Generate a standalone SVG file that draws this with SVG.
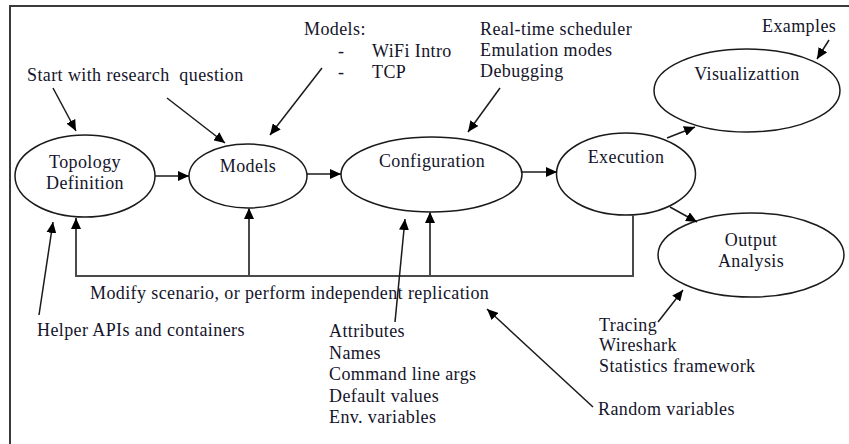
<svg xmlns="http://www.w3.org/2000/svg" width="849" height="444" viewBox="0 0 849 444">
  <style>
    text { font-family: "Liberation Serif", "Times New Roman", serif; font-size: 18px; letter-spacing: 0.4px; fill: #14142a; white-space: pre; }
    .mid { text-anchor: middle; }
    .node { fill: #ffffff; stroke: #1a1a1a; stroke-width: 1.5; }
    .arr { fill: none; stroke: #1a1a1a; stroke-width: 1.5; marker-end: url(#head); }
    .loop { fill: none; stroke: #4a4a4a; stroke-width: 2; }
    .loopArr { fill: none; stroke: #4a4a4a; stroke-width: 2; marker-end: url(#head); }
    .frame { fill: none; stroke: #3a3a3a; stroke-width: 2; }
  </style>
  <defs>
    <marker id="head" markerUnits="userSpaceOnUse" markerWidth="12" markerHeight="10" refX="11" refY="5" orient="auto">
      <path d="M0,0 L11,5 L0,10 z" fill="#000"/>
    </marker>
  </defs>

  <rect width="849" height="444" fill="#ffffff"/>
  <!-- frame: top and left edges -->
  <path class="frame" d="M10,444 V6 H849"/>

  <!-- nodes -->
  <g id="topology">
    <ellipse class="node" cx="85" cy="176" rx="70" ry="41"/>
    <text class="mid" x="85" y="168">Topology</text>
    <text class="mid" x="85" y="189">Definition</text>
  </g>
  <g id="models">
    <ellipse class="node" cx="248" cy="176" rx="59" ry="32"/>
    <text class="mid" x="248" y="172">Models</text>
  </g>
  <g id="configuration">
    <ellipse class="node" cx="431.5" cy="174.5" rx="90.5" ry="37.5"/>
    <text class="mid" x="432" y="167">Configuration</text>
  </g>
  <g id="execution">
    <ellipse class="node" cx="626" cy="174" rx="69.5" ry="41"/>
    <text class="mid" x="626" y="163">Execution</text>
  </g>
  <g id="visualization">
    <ellipse class="node" cx="747" cy="90.5" rx="93" ry="41.5"/>
    <text class="mid" x="747" y="80">Visualizattion</text>
  </g>
  <g id="output">
    <ellipse class="node" cx="751" cy="255" rx="93" ry="42"/>
    <text class="mid" x="751" y="246">Output</text>
    <text class="mid" x="751" y="267">Analysis</text>
  </g>

  <!-- annotations -->
  <g id="notes">
    <text x="27" y="81">Start with research  question</text>
    <text x="304" y="35">Models:</text>
    <text x="338" y="57">-</text>
    <text x="372" y="57">WiFi Intro</text>
    <text x="338" y="78">-</text>
    <text x="372" y="78">TCP</text>
    <text x="480" y="35">Real-time scheduler</text>
    <text x="480" y="56">Emulation modes</text>
    <text x="480" y="77">Debugging</text>
    <text x="762" y="32">Examples</text>
    <text x="90" y="299">Modify scenario, or perform independent replication</text>
    <text x="37" y="336">Helper APIs and containers</text>
    <text x="329" y="337">Attributes</text>
    <text x="329" y="359">Names</text>
    <text x="329" y="380">Command line args</text>
    <text x="329" y="402">Default values</text>
    <text x="329" y="423">Env. variables</text>
    <text x="599" y="331">Tracing</text>
    <text x="599" y="351">Wireshark</text>
    <text x="599" y="372">Statistics framework</text>
    <text x="598" y="415">Random variables</text>
  </g>

  <!-- connectors -->
  <g id="connectors">
    <!-- main flow -->
    <line class="arr" x1="155" y1="176" x2="189" y2="176"/>
    <line class="arr" x1="307" y1="174" x2="341" y2="174"/>
    <line class="arr" x1="522" y1="172" x2="557" y2="172"/>
    <line class="arr" x1="667" y1="138" x2="695" y2="127"/>
    <line class="arr" x1="670" y1="207" x2="697" y2="222"/>
    <!-- feedback loop -->
    <path class="loop" d="M633,215 V276 H76"/>
    <line class="loopArr" x1="76" y1="277" x2="76" y2="218"/>
    <line class="loopArr" x1="249" y1="276" x2="249" y2="208"/>
    <line class="loopArr" x1="430" y1="276" x2="430" y2="212"/>
    <!-- annotation pointers -->
    <line class="arr" x1="53" y1="88" x2="76" y2="131"/>
    <line class="arr" x1="167" y1="98" x2="225" y2="143"/>
    <line class="arr" x1="322" y1="68" x2="270" y2="135"/>
    <line class="arr" x1="500" y1="88" x2="468" y2="132"/>
    <line class="arr" x1="829" y1="40" x2="817" y2="59"/>
    <line class="arr" x1="39" y1="315" x2="53" y2="222"/>
    <line class="arr" x1="395" y1="322" x2="405" y2="219"/>
    <line class="arr" x1="593" y1="407" x2="487" y2="309"/>
    <line class="arr" x1="658" y1="322" x2="683" y2="290"/>
  </g>
</svg>
